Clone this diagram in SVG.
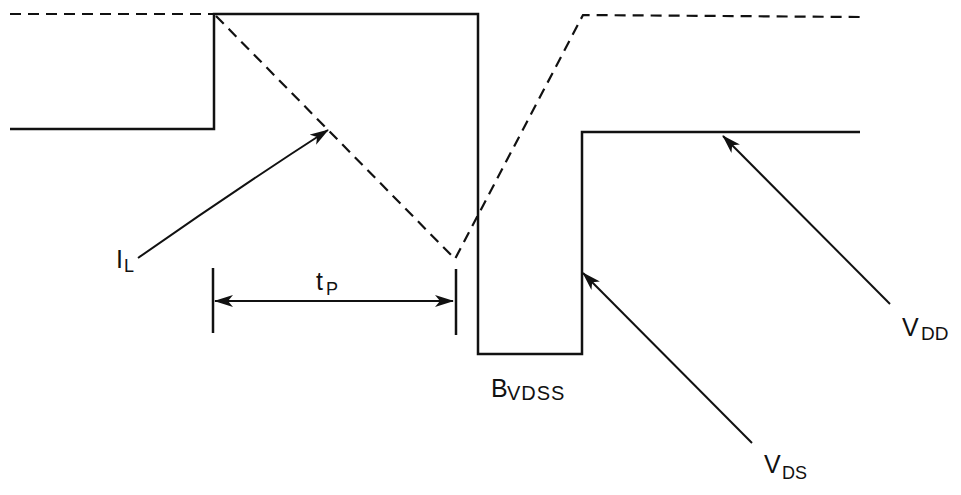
<svg xmlns="http://www.w3.org/2000/svg" width="961" height="495" viewBox="0 0 961 495">
<style>
.w{fill:none;stroke:#111;stroke-width:2.5;stroke-linejoin:miter}
.d{fill:none;stroke:#111;stroke-width:2.2;stroke-dasharray:11 7}
.a{fill:none;stroke:#111;stroke-width:2}
.t{font-family:"Liberation Sans",Arial,sans-serif;fill:#111;font-size:25px}
.s{font-size:18px}
</style>
<defs>
<marker id="ah" viewBox="0 0 19 12" refX="18" refY="6" markerWidth="19" markerHeight="12" markerUnits="userSpaceOnUse" orient="auto-start-reverse">
<path d="M0,0 L19,6 L0,12 L5,6 Z" fill="#111"/>
</marker>
</defs>
<rect width="961" height="495" fill="#fff"/>
<g id="waveforms">
<polyline class="w" points="10,129 214,129 214,14 478,14 478,354 582,354 582,132 860,132"/>
<polyline class="d" points="10,14 214,14"/>
<polyline class="d" points="216,16 455,259 583,15 860,17"/>
</g>
<g id="connectors">
<path class="a" d="M138,258 Q235,190 328,130" marker-end="url(#ah)"/>
<line class="a" x1="215" y1="301" x2="453" y2="301" marker-start="url(#ah)" marker-end="url(#ah)"/>
<line class="w" x1="213" y1="268" x2="213" y2="333"/>
<line class="w" x1="456" y1="269" x2="456" y2="335"/>
<line class="a" x1="752" y1="443" x2="583" y2="273" marker-end="url(#ah)"/>
<line class="a" x1="890" y1="304" x2="723" y2="136" marker-end="url(#ah)"/>
</g>
<g id="label-IL"><text class="t" x="116" y="268">I<tspan class="s" x="124" dy="4">L</tspan></text></g>
<g id="label-tP"><text class="t" x="316" y="290">t<tspan class="s" x="326" dy="5">P</tspan></text></g>
<g id="label-BVDSS"><text class="t" x="491" y="397">B<tspan class="s" x="507" dy="3" style="font-size:20px;letter-spacing:1px">VDSS</tspan></text></g>
<g id="label-VDS"><text class="t" x="764" y="473">V<tspan class="s" x="782" dy="6">DS</tspan></text></g>
<g id="label-VDD"><text class="t" x="902" y="336">V<tspan class="s" x="921" dy="4" style="font-size:19px">DD</tspan></text></g>
</svg>
